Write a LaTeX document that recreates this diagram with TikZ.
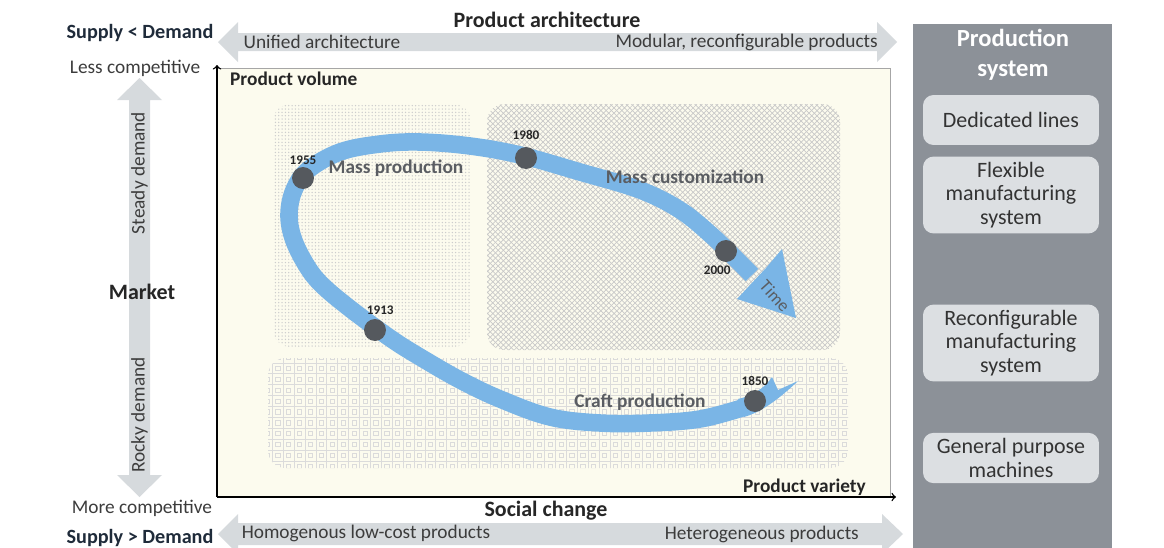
\documentclass[tikz,border=0pt]{standalone}
\usepackage{fontspec}
\setmainfont{Carlito}
\usetikzlibrary{patterns,positioning}

\definecolor{bandgray}{HTML}{D6DADD}
\definecolor{panelgray}{HTML}{8C9198}
\definecolor{boxgray}{HTML}{DCDFE2}
\definecolor{navy}{HTML}{1F2B3A}
\definecolor{cream}{HTML}{FCFBEE}
\definecolor{timeblue}{HTML}{7AB5E6}
\definecolor{dotgray}{HTML}{55595E}
\definecolor{inkgray}{HTML}{3C3C3C}
\definecolor{zonegray}{HTML}{5A5D62}

% các mẫu tô
\pgfdeclarepatternformonly{finedots}{\pgfqpoint{-1pt}{-1pt}}{\pgfqpoint{2pt}{2pt}}{\pgfqpoint{1.9pt}{1.9pt}}{%
  \pgfpathcircle{\pgfqpoint{0.95pt}{0.95pt}}{0.42pt}\pgfusepath{fill}}
\pgfdeclarepatternformonly{finehatch}{\pgfqpoint{-1pt}{-1pt}}{\pgfqpoint{4pt}{4pt}}{\pgfqpoint{3pt}{3pt}}{%
  \pgfsetlinewidth{0.4pt}
  \pgfpathmoveto{\pgfqpoint{0pt}{0pt}}\pgfpathlineto{\pgfqpoint{3pt}{3pt}}
  \pgfpathmoveto{\pgfqpoint{0pt}{3pt}}\pgfpathlineto{\pgfqpoint{3pt}{0pt}}
  \pgfusepath{stroke}}
\pgfdeclarepatternformonly{tilegrid}{\pgfqpoint{-1pt}{-1pt}}{\pgfqpoint{7pt}{7pt}}{\pgfqpoint{6.2pt}{6.2pt}}{%
  \pgfsetlinewidth{0.35pt}
  \pgfpathmoveto{\pgfqpoint{0pt}{0pt}}\pgfpathlineto{\pgfqpoint{6.2pt}{0pt}}
  \pgfpathmoveto{\pgfqpoint{0pt}{0pt}}\pgfpathlineto{\pgfqpoint{0pt}{6.2pt}}
  \pgfpathrectangle{\pgfqpoint{1.9pt}{1.9pt}}{\pgfqpoint{2.4pt}{2.4pt}}
  \pgfusepath{stroke}}

\begin{document}
\begin{tikzpicture}[
  x={(0.02cm,0cm)},
  y={(0cm,-0.02cm)},
  bar/.style={fill=bandgray},
  side/.style={font=\fontsize{11}{13}\selectfont, text=inkgray},
  heading/.style={font=\fontsize{12.5}{15}\selectfont\bfseries, text=black!85},
  supply/.style={font=\fontsize{11.5}{13}\selectfont\bfseries, text=navy},
  dot/.style={circle, fill=dotgray, minimum size=0.44cm, inner sep=0},
  year/.style={font=\fontsize{7.5}{9}\selectfont\bfseries, text=black!85, inner sep=1pt},
  zone/.style={font=\fontsize{11}{13}\selectfont\bfseries, text=zonegray},
  sysbox/.style={fill=boxgray, rounded corners=6pt, minimum width=3.52cm,
    align=center, font=\fontsize{12.5}{13.2}\selectfont, text=black!80}
]
  \useasboundingbox (0,0) rectangle (1164,548);

  % các mũi tên xám
  \fill[bar] (218,42) -- (238,22) -- (238,33) -- (877,33) -- (877,22) -- (897,42)
    -- (877,62) -- (877,51) -- (238,51) -- (238,62) -- cycle;
  \fill[bar] (218,534) -- (238,514) -- (238,523) -- (882,523) -- (882,514) -- (903,534)
    -- (882,554) -- (882,545) -- (238,545) -- (238,554) -- cycle;
  \fill[bar] (139.5,78) -- (162,100) -- (150,100) -- (150,475) -- (162,475) -- (139.5,497)
    -- (117,475) -- (129,475) -- (129,100) -- (117,100) -- cycle;

  % chữ quanh khung
  \node[supply] (supplyless) at (140,33) {Supply < Demand};
  \node[side] (lesscomp) at (135,68) {Less competitive};
  \node[side, rotate=90] (steady) at (139.5,173) {Steady demand};
  \node[heading] (market) at (142,292) {Market};
  \node[side, rotate=90] (rocky) at (139.5,415) {Rocky demand};
  \node[side] (morecomp) at (142,508) {More competitive};
  \node[supply] (supplymore) at (140,538) {Supply > Demand};
  \node[heading] (archi) at (547,20) {Product architecture};
  \node[side] (unified) at (322,42) {Unified architecture};
  \node[side, anchor=east] (modular) at (884,42) {Modular, reconfigurable products};
  \node[heading] (social) at (546,511) {Social change};
  \node[side] (homog) at (366,533) {Homogenous low-cost products};
  \node[side, anchor=east] (hetero) at (865,534) {Heterogeneous products};

  % khung đồ thị
  \draw[gray!70, fill=cream] (217,68) rectangle (890,497);
  \fill[pattern=finedots, pattern color=gray!40, rounded corners=10pt] (273,104) rectangle (471,347);
  \fill[pattern=finehatch, pattern color=gray!42, rounded corners=10pt] (487,104) rectangle (840,350);
  \fill[pattern=tilegrid, pattern color=gray!28, rounded corners=10pt] (268,358) rectangle (848,468);

  \coordinate (o) at (217,497);
  \coordinate (ytop) at (217,65);
  \coordinate (xend) at (896,497);
  \draw[->, thick] (o) -- (ytop);
  \draw[->, thick] (o) -- (xend);
  \node[heading, font=\fontsize{11}{13}\selectfont\bfseries, anchor=west] (vol) at (224,79) {Product volume};
  \node[heading, font=\fontsize{11}{13}\selectfont\bfseries, anchor=east] (var) at (872,487) {Product variety};

  % đường thời gian
  \draw[timeblue, line width=10pt] plot[smooth, tension=0.6] coordinates {
    (742,408) (700,419) (650,423) (600,423) (550,417) (500,399) (460,380)
    (420,357) (390,338) (348,307) (320,283) (305,263) (293,238) (289,214)
    (294,190) (308,170) (340,152) (380,144) (420,142) (470,146) (520,155)
    (580,172) (640,190) (680,210) (710,234) (735,258) (752,275)};
  \fill[timeblue] (766,268) -- (782,249) -- (796,318) -- (737,299) -- (750,285) -- cycle;
  \fill[timeblue] (738,399) .. controls (752,396) and (765,388) .. (772,377) -- (778,390)
    -- (798,381) .. controls (780,398) and (762,412) .. (744,417) -- cycle;

  % các mốc năm
  \node[dot] (d1850) at (755,401) {};
  \node[dot] (d1913) at (375,330) {};
  \node[dot] (d1955) at (303,178) {};
  \node[dot] (d1980) at (526,158) {};
  \node[dot] (d2000) at (726,251) {};
  \node[year, above=1pt of d1850] (y1850) {1850};
  \node[year, above=1pt of d1913, xshift=3pt] (y1913) {1913};
  \node[year, above=0pt of d1955] (y1955) {1955};
  \node[year, above=3pt of d1980] (y1980) {1980};
  \node[year, below=1pt of d2000, xshift=-5pt] (y2000) {2000};

  \node[zone] (masspro) at (396,168) {Mass production};
  \node[zone] (masscus) at (685,177) {Mass customization};
  \node[zone] (craft) at (640,402) {Craft production};
  \node[zone, font=\fontsize{10}{12}\selectfont, rotate=-48, inner sep=0pt] (time) at (775,296) {Time};

  % hệ thống sản xuất
  \fill[panelgray] (913,24) rectangle (1112,548);
  \node[align=center, text=white, font=\fontsize{14}{17}\selectfont\bfseries] (psys) at (1013,55) {Production\\system};
  \node[sysbox, minimum height=1cm] (dedicated) at (1011,120) {Dedicated lines};
  \node[sysbox, minimum height=1.46cm] (flexible) at (1011,195) {Flexible\\manufacturing\\system};
  \node[sysbox, minimum height=1.46cm] (reconf) at (1011,343) {Reconfigurable\\manufacturing\\system};
  \node[sysbox, minimum height=1cm] (general) at (1011,458) {General purpose\\machines};
\end{tikzpicture}
\end{document}
